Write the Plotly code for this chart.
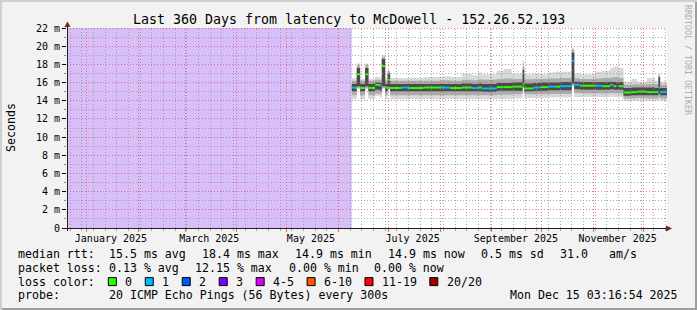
import plotly.graph_objects as go
import pandas as pd
import math

# ---------------- data ----------------
range_start = "2024-12-20 03:16:54"
range_end = "2025-12-15 03:16:54"

dates = [
    "2025-06-09", "2025-06-11", "2025-06-12", "2025-06-14", "2025-06-17", "2025-06-19", "2025-06-23", "2025-06-26", "2025-06-27", "2025-06-29",
    "2025-06-30 12:00", "2025-07-02", "2025-07-09", "2025-07-13", "2025-07-22", "2025-08-02", "2025-08-07", "2025-08-14", "2025-08-20", "2025-08-24",
    "2025-08-26", "2025-09-04", "2025-09-08", "2025-09-13", "2025-09-19 12:00", "2025-09-20 12:00", "2025-09-26", "2025-09-30", "2025-10-05", "2025-10-09",
    "2025-10-12", "2025-10-19", "2025-10-20 12:00", "2025-10-24", "2025-11-02", "2025-11-06", "2025-11-11", "2025-11-13", "2025-11-15", "2025-11-16",
    "2025-11-19", "2025-11-24", "2025-11-27", "2025-12-03", "2025-12-08", "2025-12-10", "2025-12-11",
]
rtt_med = [
    15.45, 15.40, 16.90, 15.40, 16.90, 15.40, 15.75, 15.70, 17.80, 15.45,
    16.30, 15.40, 15.45, 15.40, 15.45, 15.45, 15.40, 15.45, 15.40, 15.45,
    15.35, 15.50, 15.50, 15.55, 15.80, 15.35, 15.45, 15.50, 15.55, 15.55,
    15.60, 18.40, 15.75, 15.65, 15.65, 15.60, 15.75, 15.60, 15.55, 15.60,
    14.90, 14.95, 15.00, 14.95, 14.95, 15.45, 14.95,
]
loss_cnt = [
    1, 0, 0, 0, 0, 0, 0, 1, 0, 0,
    0, 0, 1, 0, 0, 1, 0, 0, 1, 0,
    1, 0, 0, 0, 0, 0, 1, 0, 1, 0,
    1, 1, 1, 0, 1, 0, 1, 0, 3, 0,
    0, 0, 0, 0, 0, 1, 1,
]
rtt_min = [
    14.15, 14.15, 15.30, 14.15, 15.30, 14.15, 14.50, 14.30, 15.30, 14.20,
    15.20, 14.15, 14.15, 14.15, 14.15, 14.15, 14.15, 14.15, 14.15, 14.15,
    14.15, 14.20, 14.20, 14.25, 15.40, 14.30, 14.30, 14.30, 14.35, 14.35,
    14.35, 15.60, 14.40, 14.40, 14.40, 14.40, 14.45, 14.40, 14.40, 14.40,
    14.00, 14.00, 14.00, 14.00, 14.00, 14.10, 14.00,
]
rtt_lo = [
    14.60, 14.60, 15.40, 14.60, 15.40, 14.60, 14.80, 14.70, 15.40, 14.60,
    15.30, 14.60, 14.60, 14.60, 14.60, 14.60, 14.60, 14.60, 14.60, 14.60,
    14.60, 14.65, 14.65, 14.70, 15.45, 14.70, 14.70, 14.70, 14.75, 14.75,
    14.75, 15.70, 14.85, 14.80, 14.80, 14.80, 14.85, 14.80, 14.80, 14.80,
    14.25, 14.25, 14.30, 14.25, 14.25, 14.40, 14.25,
]
rtt_q1 = [
    15.05, 15.05, 15.60, 15.05, 15.60, 15.05, 15.20, 15.10, 15.60, 15.05,
    15.50, 15.05, 15.05, 15.05, 15.05, 15.05, 15.05, 15.05, 15.05, 15.05,
    15.00, 15.10, 15.10, 15.10, 15.55, 15.05, 15.10, 15.10, 15.15, 15.15,
    15.15, 15.90, 15.25, 15.20, 15.20, 15.20, 15.25, 15.20, 15.20, 15.20,
    14.55, 14.60, 14.60, 14.60, 14.60, 14.80, 14.60,
]
rtt_q3 = [
    15.85, 15.85, 17.60, 15.85, 17.60, 15.85, 16.00, 15.95, 18.60, 15.85,
    17.00, 15.85, 15.85, 15.85, 15.85, 15.85, 15.85, 15.90, 15.85, 15.90,
    15.85, 15.95, 15.95, 16.00, 17.40, 15.90, 15.95, 16.00, 16.00, 16.00,
    16.05, 19.30, 16.10, 16.05, 16.05, 16.05, 16.10, 16.05, 16.00, 16.05,
    15.40, 15.45, 15.45, 15.45, 15.40, 16.60, 15.40,
]
rtt_hi = [
    16.20, 16.20, 17.90, 16.20, 17.90, 16.20, 16.30, 16.25, 18.80, 16.20,
    17.20, 16.20, 16.20, 16.20, 16.20, 16.25, 16.20, 16.30, 16.25, 16.35,
    16.30, 16.40, 16.45, 16.40, 17.80, 16.35, 16.40, 16.40, 16.45, 16.45,
    16.50, 19.60, 16.45, 16.40, 16.45, 16.50, 16.55, 16.60, 16.60, 16.50,
    15.75, 15.80, 15.80, 15.85, 15.80, 16.80, 15.75,
]
rtt_max = [
    16.50, 16.50, 18.10, 16.40, 18.10, 16.40, 16.60, 16.50, 19.00, 16.50,
    17.40, 16.50, 16.50, 16.50, 16.60, 16.70, 16.60, 17.00, 16.80, 17.10,
    16.90, 17.30, 17.50, 17.00, 18.40, 16.90, 17.00, 16.90, 17.10, 17.20,
    17.20, 19.80, 17.00, 16.90, 17.20, 17.30, 17.60, 17.80, 17.80, 17.60,
    16.10, 16.40, 16.10, 16.50, 16.20, 17.00, 16.10,
]
n = len(dates)
for arr in (rtt_med, loss_cnt, rtt_min, rtt_lo, rtt_q1, rtt_q3, rtt_hi, rtt_max):
    assert len(arr) == n

loss_labels = ["0", "1", "2", "3", "4-5", "6-10", "11-19", "20/20"]
loss_palette = ["#26ff00", "#00b8ff", "#0059ff", "#7e00ff", "#dd00ff", "#ff5500", "#ff0000", "#a10000"]
loss_upper = [0, 1, 2, 3, 5, 10, 19, 20]

x_label_pos = ["2025-01-15 12:00", "2025-03-15 12:00", "2025-05-15 12:00",
               "2025-07-15 12:00", "2025-09-15 12:00", "2025-11-15 12:00"]
x_label_text = ["January 2025", "March 2025", "May 2025", "July 2025", "September 2025", "November 2025"]
y_ticks = [0, 2, 4, 6, 8, 10, 12, 14, 16, 18, 20, 22]
y_ticktext = ["0"] + [f"{v} m" for v in y_ticks[1:]]
y_max = 22

title = "Last 360 Days from latency to McDowell - 152.26.52.193"
stats_rtt = ["15.5 ms avg", "18.4 ms max", "14.9 ms min", "14.9 ms now", "0.5 ms sd", "31.0", "am/s"]
stats_loss = ["0.13 % avg", "12.15 % max", "0.00 % min", "0.00 % now"]
probe_text = "20 ICMP Echo Pings (56 Bytes) every 300s"
stamp_text = "Mon Dec 15 03:16:54 2025"

# ---------------- geometry ----------------
FONT = "DejaVu Sans Mono"
W, H = 697, 310
ML, MR, MT, MB = 67, 30, 28, 82
PW, PH = W - ML - MR, H - MT - MB


def px_x(x):
    return (x - ML) / PW


def px_y(y):
    return (MT + PH - y) / PH


t0 = pd.Timestamp(range_start)
t1 = pd.Timestamp(range_end)


def date_px(t):
    return ML + (pd.Timestamp(t) - t0) / (t1 - t0) * PW


def val_px(v):
    return MT + PH - v / y_max * PH


dates_ext = dates + [range_end]


def ext(a):
    return list(a) + [a[-1]]


fig = go.Figure()

# smoke bands (outer -> inner)
bands = [(rtt_min, rtt_max, "#d9d9d9"), (rtt_lo, rtt_hi, "#acacac"), (rtt_q1, rtt_q3, "#4a4a4a")]
for lo_arr, hi_arr, col in bands:
    fig.add_trace(go.Scatter(x=dates_ext, y=ext(lo_arr), mode="lines", line=dict(width=0, shape="hv"),
                             showlegend=False, hoverinfo="skip"))
    fig.add_trace(go.Scatter(x=dates_ext, y=ext(hi_arr), mode="lines", line=dict(width=0, shape="hv"),
                             fill="tonexty", fillcolor=col, showlegend=False, hoverinfo="skip"))


def loss_class(c):
    for k, up in enumerate(loss_upper):
        if c <= up:
            return k
    return len(loss_upper) - 1


# median line coloured by loss
for k, col in enumerate(loss_palette):
    xs, ys = [], []
    for i in range(n):
        if loss_class(loss_cnt[i]) == k:
            xs += [dates_ext[i], dates_ext[i + 1], None]
            ys += [rtt_med[i], rtt_med[i], None]
    if xs:
        fig.add_trace(go.Scatter(x=xs, y=ys, mode="lines", line=dict(color=col, width=2),
                                 showlegend=False, hoverinfo="skip"))

# dummy trace for label axis
fig.add_trace(go.Scatter(x=[range_start, range_end], y=[None, None], xaxis="x2", yaxis="y",
                         mode="lines", showlegend=False, hoverinfo="skip"))

GRID = "rgba(143,143,143,0.75)"
MGRID = "rgba(222,79,79,0.7)"
DASH = "1px,2px"

shapes = []
# unknown-data region
shapes.append(dict(type="rect", xref="x", yref="paper", x0=range_start, x1=dates[0], y0=0, y1=1,
                   fillcolor="#d8bffa", line=dict(width=0), layer="below"))

# grid drawn on top of the graph (as rrdtool does)
weeks = pd.date_range("2024-12-22", range_end, freq="7D")
months = pd.date_range("2025-01-01", range_end, freq="MS")
for t in weeks:
    xp = math.floor(date_px(t)) + 0.5
    shapes.append(dict(type="line", xref="paper", yref="paper", x0=px_x(xp), x1=px_x(xp), y0=0, y1=1,
                       line=dict(color=GRID, width=1, dash=DASH), layer="above"))
for t in months:
    xp = math.floor(date_px(t)) + 0.5
    shapes.append(dict(type="line", xref="paper", yref="paper", x0=px_x(xp), x1=px_x(xp), y0=0, y1=1,
                       line=dict(color=MGRID, width=1, dash=DASH), layer="above"))
for v in range(1, y_max + 1):
    yp = math.floor(val_px(v)) + 0.5
    col = MGRID if v in y_ticks else GRID
    shapes.append(dict(type="line", xref="paper", yref="paper", x0=0, x1=1, y0=px_y(yp), y1=px_y(yp),
                       line=dict(color=col, width=1, dash=DASH), layer="above"))

# frame shading
shapes.append(dict(type="rect", xref="paper", yref="paper", x0=px_x(0), x1=px_x(W), y0=px_y(0), y1=px_y(2),
                   fillcolor="#cfcfcf", line=dict(width=0), layer="above"))
shapes.append(dict(type="rect", xref="paper", yref="paper", x0=px_x(0), x1=px_x(2), y0=px_y(0), y1=px_y(H),
                   fillcolor="#cfcfcf", line=dict(width=0), layer="above"))
shapes.append(dict(type="rect", xref="paper", yref="paper", x0=px_x(2), x1=px_x(W), y0=px_y(H - 2), y1=px_y(H),
                   fillcolor="#9e9e9e", line=dict(width=0), layer="above"))
shapes.append(dict(type="rect", xref="paper", yref="paper", x0=px_x(W - 2), x1=px_x(W), y0=px_y(2), y1=px_y(H),
                   fillcolor="#9e9e9e", line=dict(width=0), layer="above"))
# axes and arrows
AXIS = "#1f1f1f"
ARROW = "#801f1f"
shapes.append(dict(type="line", xref="paper", yref="paper", x0=px_x(67.5), x1=px_x(67.5), y0=px_y(231), y1=px_y(26),
                   line=dict(color=AXIS, width=1), layer="above"))
shapes.append(dict(type="line", xref="paper", yref="paper", x0=px_x(63), x1=px_x(667), y0=px_y(228.5), y1=px_y(228.5),
                   line=dict(color=AXIS, width=1), layer="above"))
shapes.append(dict(type="path", xref="paper", yref="paper",
                   path=f"M {px_x(64.5)},{px_y(27)} L {px_x(70.5)},{px_y(27)} L {px_x(67.5)},{px_y(21.5)} Z",
                   fillcolor=ARROW, line=dict(width=0), layer="above"))
shapes.append(dict(type="path", xref="paper", yref="paper",
                   path=f"M {px_x(666)},{px_y(225.5)} L {px_x(666)},{px_y(231.5)} L {px_x(672)},{px_y(228.5)} Z",
                   fillcolor=ARROW, line=dict(width=0), layer="above"))

annotations = []


def txt(x, y, s, size=11.6, anchor="left", color="black", angle=0):
    annotations.append(dict(xref="paper", yref="paper", x=px_x(x), y=px_y(y), text=s, showarrow=False,
                            xanchor=anchor, yanchor="middle", textangle=angle,
                            font=dict(family=FONT, size=size, color=color)))


txt(348.5, 19.5, title, size=13.3, anchor="center")
txt(11, 128, "Seconds", size=11.6, anchor="center", angle=-90)
txt(688, 60, "RRDTOOL / TOBI OETIKER", size=8.3, anchor="center", color="#adadad", angle=90)

CW = 6.97
L1, L2, L3, L4 = 254.0, 267.8, 281.6, 295.3
txt(16, L1, "median rtt:")
for s, x in zip(stats_rtt, [107.3, 200, 293.3, 386, 479.3, 558.3, 606.7]):
    txt(x, L1, s)
txt(16, L2, "packet loss:")
for s, x in zip(stats_loss, [107.3, 193.3, 286.7, 372.3]):
    txt(x, L2, s)
txt(16, L3, "loss color:")
cur = 108.3
for lab, col in zip(loss_labels, loss_palette):
    shapes.append(dict(type="rect", xref="paper", yref="paper", x0=px_x(cur), x1=px_x(cur + 8),
                       y0=px_y(L3 + 4), y1=px_y(L3 - 4), fillcolor=col,
                       line=dict(color="black", width=1), layer="above"))
    txt(cur + 15, L3, lab)
    cur = cur + 15 + len(lab) * CW + 15
txt(16, L4, "probe:")
txt(107.3, L4, probe_text)
txt(680, L4, stamp_text, anchor="right")

fig.update_layout(
    width=W, height=H, autosize=False,
    margin=dict(l=ML, r=MR, t=MT, b=MB, pad=0),
    paper_bgcolor="#f2f2f2", plot_bgcolor="white",
    showlegend=False,
    shapes=shapes, annotations=annotations,
    xaxis=dict(type="date", range=[range_start, range_end], automargin=False,
               showgrid=False, tickmode="linear", tick0="2025-01-01", dtick="M1",
               ticks="outside", ticklen=3, tickcolor="#e07070",
               showticklabels=False, showline=False, zeroline=False,
               minor=dict(dtick=7 * 86400000, tick0="2024-12-22", showgrid=False,
                          ticks="outside", ticklen=2, tickcolor="#aaaaaa")),
    xaxis2=dict(type="date", range=[range_start, range_end], overlaying="x", side="bottom", anchor="y",
                automargin=False, showgrid=False, zeroline=False, showline=False,
                tickmode="array", tickvals=x_label_pos, ticktext=x_label_text, ticks="",
                ticklabelstandoff=3,
                tickfont=dict(family=FONT, size=10, color="black")),
    yaxis=dict(range=[0, y_max], automargin=False, showgrid=False,
               tickmode="array", tickvals=y_ticks, ticktext=y_ticktext,
               ticks="outside", ticklen=4, tickcolor="black", showline=False, zeroline=False,
               tickfont=dict(family=FONT, size=10, color="black"),
               minor=dict(dtick=1, showgrid=False, ticks="outside", ticklen=2, tickcolor="#888888")),
)

fig.write_html("out.html")
